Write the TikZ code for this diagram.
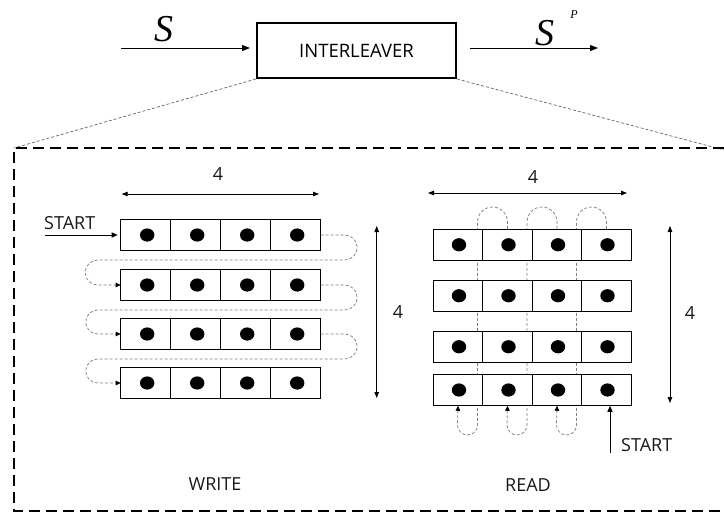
\documentclass[tikz,border=0pt]{standalone}
\usepackage{fontspec}
\setmainfont{Open Sans}
\newfontfamily\tnr{Liberation Serif}
\usetikzlibrary{arrows.meta,backgrounds,calc}
\begin{document}
\begin{tikzpicture}[x=1pt,y=-1pt,
  lbl/.style={font=\fontsize{18}{21}\selectfont, inner sep=0, text=black!90},
  cell/.style={draw, line width=0.8pt, fill=white, minimum height=31.5pt, inner sep=0, outer sep=0},
  wcell/.style={cell, minimum width=50pt},
  rcell/.style={cell, minimum width=49.5pt},
  gdash/.style={draw=black!50, line width=0.75pt, dash pattern=on 3pt off 2pt},
  ltip/.style={-{Triangle[length=5pt,width=4.5pt,color=black]}},
  dbl/.style={line width=0.8pt,{Triangle[length=6pt,width=4.5pt]}-{Triangle[length=6pt,width=4.5pt]}},
  mainarrow/.style={line width=1pt,-{Triangle[length=8pt,width=6pt]}},
  frame/.style={line width=2.2pt, dash pattern=on 11pt off 6pt},
  zoomline/.style={draw=black!60, line width=0.7pt, dash pattern=on 3pt off 2pt}
]
\useasboundingbox (0,0) rectangle (724,515);

% top block
\node[draw, line width=2.4pt, minimum width=198.6pt, minimum height=54.6pt,
      font=\fontsize{18.5}{21}\selectfont, inner sep=0] (ilv) at (356.5,50.5) {INTERLEAVER};
\coordinate (sin) at (121,48);
\coordinate (sout) at (598,48);
\draw[mainarrow, shorten >=6pt] (sin) -- (ilv.west |- sin);
\draw[mainarrow, shorten <=13pt] (ilv.east |- sout) -- (sout);
\node[font=\fontsize{38}{40}\selectfont\tnr\itshape, inner sep=0] (sl) at (164,29) {S};
\node[font=\fontsize{38}{40}\selectfont\tnr\itshape, inner sep=0] (spl) at (545,33) {S};
\node[font=\fontsize{12}{13}\selectfont\tnr\itshape, inner sep=0] (pl) at (574,15) {P};

% frame and zoom lines
\coordinate (ftl) at (14,148);
\coordinate (ftr) at (724,150);
\draw[zoomline] (ilv.south west) -- (ftl);
\draw[zoomline] (ilv.south east) -- (ftr);
\draw[frame] (724,148) -- (14,148) -- (14,511) -- (724,511);

% WRITE grid
\foreach \r/\y in {1/235,2/285,3/334,4/383}{
  \foreach \c in {1,2,3,4}{
    \node[wcell] (w\r\c) at ({145.7+50*(\c-1)},\y) {};
    \fill ($(w\r\c.center)+(1.5,0)$) ellipse (7.2pt and 6.6pt);
  }
}
\draw[gdash, ltip] (w14.east) -- ++(24,0) arc(-90:90:12.5) -- ++(-247,0) arc(270:90:12.5) -- (w21.west);
\draw[gdash, ltip] (w24.east) -- ++(24,0) arc(-90:90:12.5) -- ++(-247,0) arc(270:90:12) -- (w31.west);
\draw[gdash, ltip] (w34.east) -- ++(24,0) arc(-90:90:12.5) -- ++(-247,0) arc(270:90:12) -- (w41.west);

\coordinate (wst) at (45,235);
\draw[line width=1pt, -{Triangle[length=6pt,width=5pt]}] (wst) -- ($(w11.west)+(-3,0)$);
\node[lbl, anchor=south west] (wstart) at (44,229.5) {START};

\coordinate (wh1) at (121.7,194);
\coordinate (wh2) at (319,194);
\draw[dbl] (wh1) -- (wh2);
\node[lbl] (wh) at (218,174) {4};
\coordinate (wv1) at (376.7,226);
\coordinate (wv2) at (376.7,398);
\draw[dbl] (wv1) -- (wv2);
\node[lbl] (wv) at (398,312) {4};
\node[lbl] (write) at (215,484) {WRITE};

% READ grid
\foreach \r/\y in {1/244.75,2/295.75,3/346.75,4/390}{
  \foreach \c in {1,2,3,4}{
    \node[rcell] (r\r\c) at ({458+49.5*(\c-1)},\y) {};
    \fill ($(r\r\c.center)+(1,0)$) ellipse (7.2pt and 6.6pt);
  }
}
\begin{pgfonlayer}{background}
\draw[gdash, ltip] (r12.north) -- ++(0,-7) arc(0:-180:15) -- ++(0,203) arc(0:180:10) -- (r41.south);
\draw[gdash, ltip] (r13.north) -- ++(0,-7) arc(0:-180:15) -- ++(0,203) arc(0:180:10) -- (r42.south);
\draw[gdash, ltip] (r14.north) -- ++(0,-7) arc(0:-180:15) -- ++(0,203) arc(0:180:10) -- (r43.south);
\end{pgfonlayer}

\coordinate (rst) at (610,453);
\draw[line width=1pt, -{Triangle[length=6pt,width=5pt]}] (rst) -- (rst |- r44.south);
\node[lbl, anchor=west] (rstart) at (621,445) {START};

\coordinate (rh1) at (428,193);
\coordinate (rh2) at (627,193);
\draw[dbl] (rh1) -- (rh2);
\node[lbl] (rh) at (533,177) {4};
\coordinate (rv1) at (670,226);
\coordinate (rv2) at (670,403);
\draw[dbl] (rv1) -- (rv2);
\node[lbl] (rv) at (690,313) {4};
\node[lbl] (read) at (528,485) {READ};
\end{tikzpicture}
\end{document}
